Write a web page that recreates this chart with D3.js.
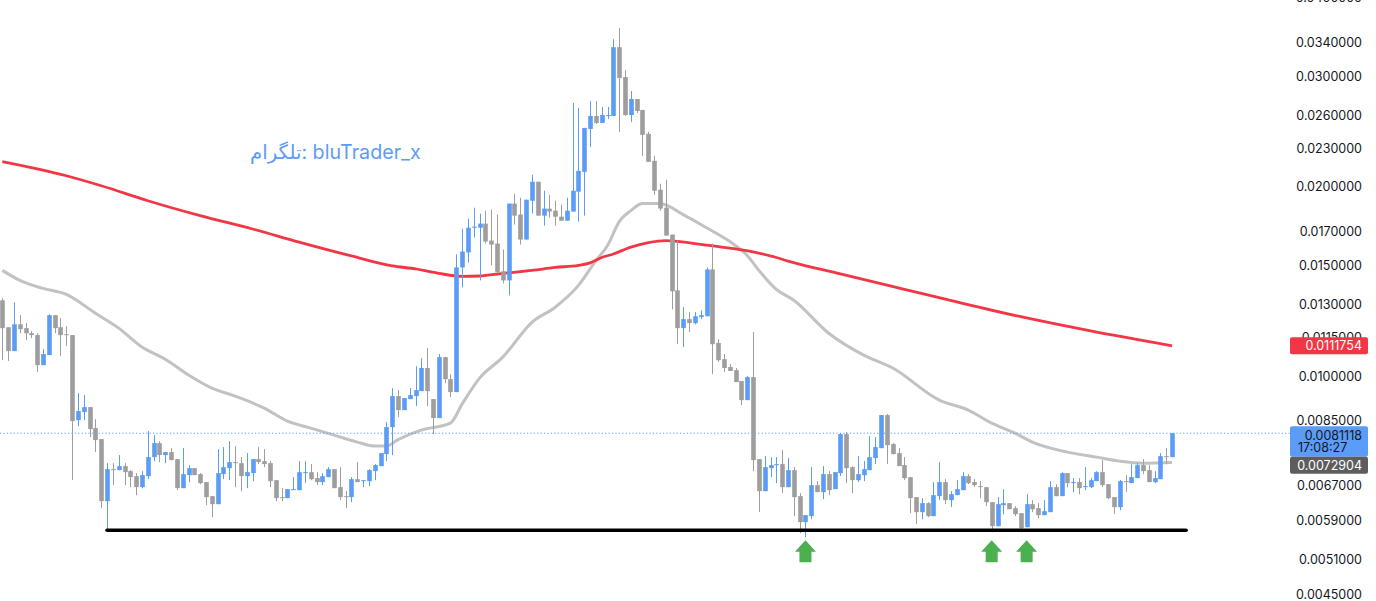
<!DOCTYPE html>
<html><head><meta charset="utf-8">
<script src="https://cdn.jsdelivr.net/npm/d3@7"></script>
<style>html,body{margin:0;padding:0;background:#fff;}svg{display:block;}</style>
</head><body>
<svg id="chart" width="1376" height="601"></svg>
<script>
// ---------- DATA ----------
const opens = [0.01320,0.01196,0.01096,0.01209,0.01192,0.01170,0.01162,0.01041,0.01080,0.01250,0.01196,0.01166,0.01162,0.008511,0.008765,0.008926,0.008266,0.007939,0.006325,0.007112,
0.007086,0.007191,0.007060,0.006932,0.006658,0.006932,0.007432,0.007824,0.007487,0.007570,0.007378,0.006634,0.006958,0.007138,0.006983,0.006782,0.006442,0.006256,0.006983,0.007138,
0.007297,0.007270,0.006932,0.007009,0.007378,0.007324,0.007270,0.006831,0.006419,0.006395,0.006585,0.006585,0.007009,0.007034,0.006882,0.006782,0.006907,0.007112,0.006658,0.006442,
0.006419,0.006856,0.006806,0.006806,0.007060,0.007191,0.007514,0.008296,0.009294,0.008829,0.009192,0.009294,0.009465,0.01030,0.009192,0.008574,0.01072,0.009891,0.009431,0.01489,
0.01573,0.01722,0.01722,0.01748,0.01643,0.01625,0.01468,0.01420,0.01881,0.01807,0.01649,0.01901,0.02038,0.01800,0.01847,0.01833,0.01793,0.01767,0.01827,0.01965,
0.02113,0.02473,0.02593,0.02528,0.02593,0.02593,0.03336,0.02990,0.02602,0.02759,0.02651,0.02428,0.02200,0.01979,0.01853,0.01679,0.01369,0.01192,0.01232,0.01214,
0.01241,0.01245,0.01478,0.01129,0.01064,0.01034,0.01022,0.009819,0.009158,0.009964,0.007378,0.006561,0.007138,0.007217,0.007244,0.006658,0.007086,0.006442,0.005857,0.005987,
0.006707,0.006537,0.006983,0.006610,0.007009,0.008086,0.007164,0.006831,0.006958,0.007086,0.007405,0.007681,0.008669,0.007795,0.007542,0.007217,0.006907,0.006419,0.006075,0.006279,
0.005987,0.006442,0.006782,0.006348,0.006466,0.006585,0.006932,0.006782,0.006683,0.006658,0.006302,0.005771,0.006233,0.006279,0.006165,0.006053,0.005750,0.006256,0.006165,0.006009,
0.006075,0.006658,0.006442,0.007009,0.006757,0.006782,0.006658,0.006658,0.006806,0.007034,0.006732,0.006419,0.006188,0.006806,0.006757,0.006882,0.007217,0.007086,0.006782,0.006856,
0.007459,0.007432];
const highs = [0.01330,0.01196,0.01310,0.01250,0.01214,0.01179,0.01170,0.01104,0.01254,0.01250,0.01236,0.01201,0.01162,0.009396,0.009328,0.008926,0.008543,0.007939,0.007270,0.007270,
0.007487,0.007270,0.007086,0.007009,0.007060,0.008175,0.008056,0.007881,0.007570,0.007681,0.007378,0.007681,0.007217,0.007138,0.007009,0.006782,0.006442,0.007653,0.007710,0.007881,
0.007738,0.007432,0.007542,0.007378,0.007710,0.007653,0.007324,0.006831,0.006634,0.006610,0.006907,0.007324,0.007324,0.007244,0.007034,0.007009,0.007164,0.007112,0.007164,0.006561,
0.006907,0.007297,0.006831,0.007112,0.007244,0.007542,0.008449,0.009570,0.009500,0.009226,0.009570,0.01037,0.01068,0.01108,0.009192,0.01084,0.01072,0.01007,0.01562,0.01716,
0.01780,0.01853,0.01813,0.01833,0.01840,0.01807,0.01590,0.01881,0.01950,0.01922,0.01908,0.02091,0.02038,0.01972,0.01943,0.01901,0.01874,0.01922,0.02719,0.02670,
0.02482,0.02739,0.02739,0.02680,0.02680,0.03435,0.03576,0.03067,0.02841,0.02759,0.02651,0.02446,0.02241,0.02023,0.02053,0.01679,0.01643,0.01287,0.01264,0.01264,
0.01273,0.01489,0.01625,0.01145,0.01084,0.01045,0.01030,0.009819,0.01000,0.01175,0.007378,0.007459,0.007432,0.007432,0.007625,0.007405,0.007164,0.006513,0.006009,0.007164,
0.006806,0.007191,0.007060,0.007034,0.008116,0.008145,0.007191,0.007459,0.007324,0.008027,0.007998,0.008669,0.008701,0.007824,0.007681,0.007432,0.006907,0.006419,0.006395,0.006302,
0.006782,0.007297,0.006856,0.006561,0.006831,0.007034,0.006983,0.006856,0.006806,0.006658,0.006302,0.006419,0.006610,0.006279,0.006210,0.006053,0.006490,0.006348,0.006279,0.006348,
0.006806,0.006732,0.007034,0.007009,0.006882,0.006882,0.007164,0.006882,0.007060,0.007351,0.006732,0.006419,0.006831,0.006958,0.007244,0.007270,0.007378,0.007217,0.007060,0.007542,
0.007681,0.008112];
const lows = [0.01060,0.01057,0.01096,0.01170,0.01141,0.01149,0.01015,0.01041,0.01080,0.01170,0.01076,0.01116,0.006831,0.008327,0.008511,0.007998,0.007570,0.006165,0.005708,0.006707,
0.007086,0.006707,0.006658,0.006466,0.006634,0.006856,0.007324,0.007297,0.007270,0.007351,0.006585,0.006634,0.006782,0.006958,0.006732,0.006233,0.005965,0.006256,0.006856,0.006831,
0.006658,0.006561,0.006634,0.006806,0.007244,0.007164,0.006658,0.006325,0.006325,0.006395,0.006585,0.006585,0.006757,0.006831,0.006707,0.006707,0.006907,0.006634,0.006348,0.006165,
0.006302,0.006782,0.006658,0.006683,0.006831,0.007191,0.007324,0.007487,0.008606,0.008829,0.009192,0.008959,0.009465,0.008959,0.008086,0.008574,0.009747,0.009260,0.009431,0.01384,
0.01516,0.01661,0.01420,0.01625,0.01500,0.01462,0.01404,0.01344,0.01742,0.01619,0.01649,0.01813,0.01800,0.01735,0.01787,0.01735,0.01767,0.01767,0.01827,0.01761,
0.01800,0.02315,0.02518,0.02528,0.02565,0.02593,0.02446,0.02593,0.02537,0.02622,0.02241,0.02192,0.01943,0.01833,0.01673,0.01277,0.01124,0.01112,0.01175,0.01209,
0.01232,0.01245,0.01007,0.01053,0.01015,0.01019,0.009783,0.008992,0.009158,0.007060,0.006075,0.006561,0.006907,0.006757,0.006513,0.006658,0.005987,0.005625,0.005543,0.005921,
0.006537,0.006372,0.006466,0.006610,0.006932,0.006757,0.006513,0.006782,0.006806,0.007086,0.007244,0.007681,0.007244,0.007514,0.007191,0.006831,0.006053,0.005814,0.005921,0.005965,
0.005987,0.006348,0.006256,0.006188,0.006466,0.006585,0.006732,0.006658,0.006395,0.006210,0.005646,0.005771,0.006031,0.006142,0.005987,0.005646,0.005750,0.006075,0.005943,0.006009,
0.006075,0.006442,0.006442,0.006658,0.006537,0.006490,0.006585,0.006634,0.006806,0.006658,0.006372,0.006031,0.006120,0.006537,0.006757,0.006882,0.006983,0.006782,0.006757,0.006856,
0.007244,0.007432];
const closes = [0.01192,0.01096,0.01209,0.01188,0.01170,0.01162,0.01041,0.01084,0.01250,0.01192,0.01162,0.01162,0.008480,0.008797,0.008926,0.008236,0.007910,0.006325,0.007112,0.007086,
0.007191,0.007034,0.006907,0.006658,0.006958,0.007432,0.007824,0.007487,0.007570,0.007351,0.006634,0.006983,0.007138,0.006958,0.006757,0.006419,0.006256,0.007009,0.007164,0.007297,
0.007270,0.006932,0.007034,0.007378,0.007297,0.007244,0.006806,0.006395,0.006395,0.006610,0.006610,0.007034,0.007034,0.006856,0.006782,0.006932,0.007112,0.006634,0.006419,0.006419,
0.006856,0.006782,0.006831,0.007086,0.007217,0.007542,0.008296,0.009294,0.008829,0.009226,0.009328,0.009500,0.01030,0.009465,0.008574,0.01072,0.009891,0.009431,0.01489,0.01578,
0.01722,0.01729,0.01748,0.01637,0.01619,0.01462,0.01420,0.01881,0.01800,0.01649,0.01908,0.02038,0.01800,0.01847,0.01827,0.01793,0.01767,0.01833,0.01972,0.02121,
0.02482,0.02593,0.02528,0.02602,0.02602,0.03336,0.02979,0.02602,0.02759,0.02641,0.02420,0.02192,0.01972,0.01847,0.01673,0.01364,0.01192,0.01232,0.01214,0.01245,
0.01250,0.01478,0.01124,0.01060,0.01030,0.01019,0.009783,0.009158,0.009964,0.007351,0.006561,0.007164,0.007217,0.007244,0.006658,0.007086,0.006419,0.005857,0.006009,0.006707,
0.006537,0.006983,0.006585,0.007034,0.008086,0.007138,0.006831,0.006983,0.007112,0.007432,0.007710,0.008669,0.007766,0.007514,0.007191,0.006882,0.006395,0.006075,0.006279,0.005987,
0.006466,0.006782,0.006348,0.006490,0.006610,0.006932,0.006757,0.006707,0.006658,0.006302,0.005771,0.006256,0.006279,0.006142,0.006031,0.005729,0.006256,0.006142,0.006009,0.006098,
0.006658,0.006442,0.007009,0.006757,0.006782,0.006634,0.006683,0.006831,0.007034,0.006707,0.006395,0.006188,0.006806,0.006782,0.006907,0.007217,0.007060,0.006782,0.006882,0.007459,
0.007432,0.0081118];

// moving average readings (candle index -> value)
const maFastIdx  = [0,3,7,11,16,20,24,28,32,36,40,45,49,53,57,61,64,66,68,72,77,79,82,86,91,95,99,102,104,106,108,110,113,117,121,125,128,130,133,136,142,148,153,161,166,170,174,177,183,188,192,196,201];
const maFastVals = [0.01473,0.01420,0.01379,0.01349,0.01259,0.01192,0.01112,0.01064,0.01004,0.009570,0.009294,0.008894,0.008480,0.008266,0.008056,0.007852,0.007738,0.007738,0.007925,0.008205,0.008418,0.009025,0.009927,0.01072,0.01218,0.01287,0.01394,0.01527,0.01613,0.01761,0.01833,0.01881,0.01881,0.01807,0.01722,0.01637,0.01556,0.01473,0.01374,0.01320,0.01170,0.01080,0.01030,0.009158,0.008829,0.008418,0.008116,0.007852,0.007570,0.007432,0.007324,0.007270,0.0072904];
const maSlowIdx  = [0,11,17,25,34,43,51,60,67,71,75,79,82,86,91,95,99,101,103,105,108,111,114,119,125,129,133,135,144,155,164,175,187,201];
const maSlowVals = [0.02194,0.02083,0.02008,0.01901,0.01800,0.01714,0.01634,0.01553,0.01497,0.01481,0.01457,0.01441,0.01443,0.01457,0.01473,0.01489,0.01500,0.01514,0.01544,0.01564,0.01604,0.01631,0.01643,0.01625,0.01598,0.01576,0.01544,0.01524,0.01454,0.01374,0.01312,0.01243,0.01180,0.0111754];

const yTicks = [0.04,0.034,0.03,0.026,0.023,0.02,0.017,0.015,0.013,0.0115,0.01,0.0085,0.0067,0.0059,0.0051,0.0045];
const lastPrice = 0.0081118;
const lastTime = "17:08:27";
const maSlowLast = 0.0111754;
const maFastLast = 0.0072904;
const supportPrice = 0.005687;
const supportFrom = 18, supportTo = 203.4;
const arrowIdx = [138, 170, 176];
const arrowPrice = 0.005483;
const watermark = "تلگرام: bluTrader_x";

// ---------- DRAW ----------
const svg = d3.select("#chart");
const W = 1376, H = 601;
const n = closes.length;
const x = d3.scaleLinear().domain([0, n - 1]).range([2.3, 1172.1]);
const y = d3.scaleLog().domain([0.034, 0.0045]).range([42, 594.1]);
const fmt = d3.format(".7f");

const UP = "#5b9cf6", DOWN = "#9e9e9e";
const fontAxis = "Inter, Roboto, 'Noto Sans', sans-serif";

svg.append("rect").attr("width", W).attr("height", H).attr("fill", "#fff");

// watermark
svg.append("text")
  .attr("x", 250).attr("y", 159)
  .attr("font-family", "Inter, Roboto, 'DejaVu Sans', sans-serif")
  .attr("font-size", 19.7)
  .attr("fill", "#5d9cf5")
  .text(watermark);

// moving averages
const lineGen = d3.line().x(d => x(d[0])).y(d => y(d[1])).curve(d3.curveMonotoneX);
svg.append("path")
  .datum(maFastIdx.map((d, i) => [d, maFastVals[i]]))
  .attr("d", lineGen).attr("fill", "none")
  .attr("stroke", "#c2c2c2").attr("stroke-width", 3).attr("stroke-linejoin", "round");
svg.append("path")
  .datum(maSlowIdx.map((d, i) => [d, maSlowVals[i]]))
  .attr("d", lineGen).attr("fill", "none")
  .attr("stroke", "#f23645").attr("stroke-width", 2.8).attr("stroke-linejoin", "round");

// last price dotted line
svg.append("line")
  .attr("x1", 0).attr("x2", 1290)
  .attr("y1", y(lastPrice)).attr("y2", y(lastPrice))
  .attr("stroke", UP).attr("stroke-width", 1).attr("stroke-dasharray", "1.2 2.2");

// candles
const candles = d3.range(n).map(i => ({i, o: opens[i], h: highs[i], l: lows[i], c: closes[i]}));
const bw = 4.6;
const g = svg.append("g");
const cg = g.selectAll("g.c").data(candles).enter().append("g");
cg.append("line")
  .attr("x1", d => Math.round(x(d.i)) + 0.5).attr("x2", d => Math.round(x(d.i)) + 0.5)
  .attr("y1", d => y(d.h)).attr("y2", d => y(d.l))
  .attr("stroke", d => d.c >= d.o ? UP : DOWN).attr("stroke-width", 1);
cg.append("rect")
  .attr("x", d => Math.round(x(d.i)) + 0.5 - bw / 2)
  .attr("width", bw)
  .attr("y", d => y(Math.max(d.o, d.c)))
  .attr("height", d => Math.max(1, y(Math.min(d.o, d.c)) - y(Math.max(d.o, d.c))))
  .attr("fill", d => d.c >= d.o ? UP : DOWN);

// support line
svg.append("line")
  .attr("x1", x(supportFrom)).attr("x2", x(supportTo))
  .attr("y1", y(supportPrice)).attr("y2", y(supportPrice))
  .attr("stroke", "#000").attr("stroke-width", 3.6).attr("stroke-linecap", "round");

// arrows
svg.selectAll("path.arrow").data(arrowIdx).enter().append("path")
  .attr("d", d => {
    const cx = x(d), ty = y(arrowPrice);
    return `M${cx},${ty} L${cx + 10.5},${ty + 11.5} L${cx + 6},${ty + 11.5} L${cx + 6},${ty + 22} L${cx - 6},${ty + 22} L${cx - 6},${ty + 11.5} L${cx - 10.5},${ty + 11.5} Z`;
  })
  .attr("fill", "#4caf50");

// right axis labels
svg.selectAll("text.tick").data(yTicks).enter().append("text")
  .attr("x", 1362).attr("y", d => y(d))
  .attr("text-anchor", "end").attr("dominant-baseline", "central")
  .attr("font-family", fontAxis).attr("font-size", 12.5)
  .attr("fill", "#131722")
  .text(d => fmt(d));

// price boxes
const bx = 1290, bwid = 78;
function box(yTop, h, fill) {
  svg.append("rect").attr("x", bx).attr("y", yTop).attr("width", bwid).attr("height", h)
    .attr("rx", 2).attr("fill", fill);
}
function boxText(tx, ty, txt, color, anchor) {
  svg.append("text").attr("x", tx).attr("y", ty)
    .attr("text-anchor", anchor).attr("dominant-baseline", "central")
    .attr("font-family", fontAxis).attr("font-size", 12.5)
    .attr("fill", color).text(txt);
}
// slow MA box
const ys = y(maSlowLast);
box(ys - 8.5, 17, "#f23645");
boxText(1362, ys, fmt(maSlowLast), "#fff", "end");
// last price box
const yp = y(lastPrice);
const pTop = yp - 7;
box(pTop, 30.5, UP);
boxText(1362, pTop + 9, fmt(lastPrice), "#131722", "end");
boxText(1298, pTop + 21.5, lastTime, "#131722", "start");
// fast MA box
const yf = y(maFastLast);
const fTop = Math.max(yf - 8.5, pTop + 30.5);
box(fTop, 17, "#5d5d5d");
boxText(1362, fTop + 8.5, fmt(maFastLast), "#fff", "end");
</script>
</body></html>
